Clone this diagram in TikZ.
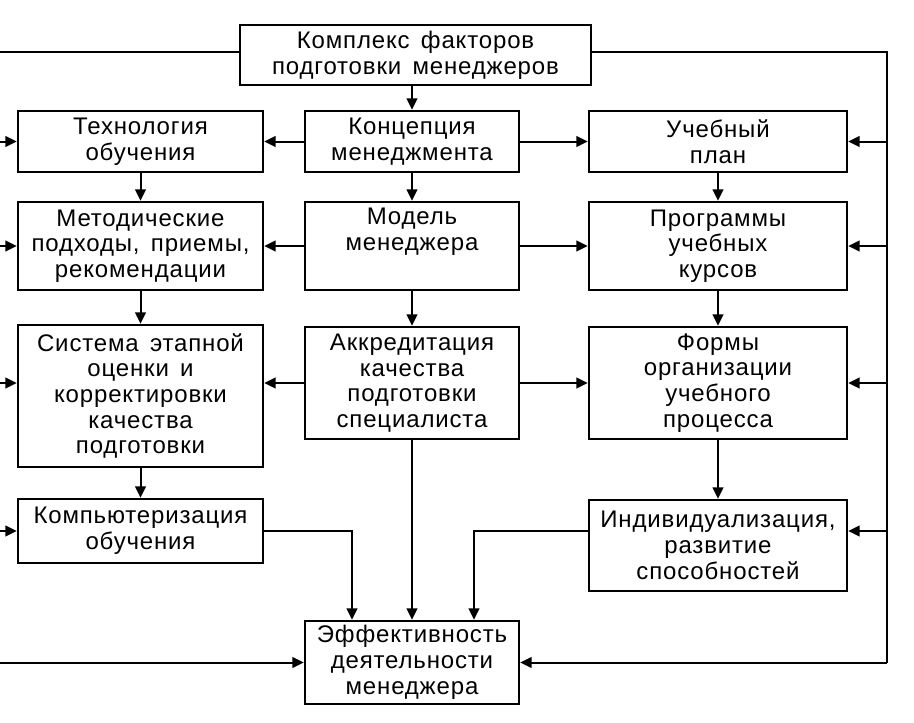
\documentclass[tikz,border=0pt]{standalone}
\usepackage{fontspec}
\setmainfont{Liberation Sans}[LetterSpace=3.5,WordSpace=1.5]
\usetikzlibrary{arrows.meta}
\begin{document}
\begin{tikzpicture}[x=0.75pt,y=-0.75pt,
  box/.style={draw, line width=2pt, align=center, inner sep=0pt,
    font=\fontsize{18}{19.3}\selectfont},
  colL/.style={box, minimum width=183.75pt},
  colM/.style={box, minimum width=160.5pt},
  colR/.style={box, minimum width=193.5pt},
  ln/.style={line width=1.5pt},
  arr/.style={line width=1.5pt, -{Triangle[length=8.5pt,width=8pt]}}]
\useasboundingbox (0,0) rectangle (914,722);
\fill[white] (0,0) rectangle (914,722);
\clip (0,0) rectangle (914,722);

\node[box, minimum width=263.25pt, minimum height=45pt] (top) at (415.5,55)
  {Комплекс факторов\\подготовки менеджеров};

\node[colL, minimum height=45.75pt] (tech) at (140.5,141.5) {Технология\\обучения};
\node[colM, minimum height=45.75pt] (konc) at (412,141.5) {Концепция\\менеджмента};
\node[colR, minimum height=45.75pt] (plan) at (718,141.5) {Учебный\\план};

\node[colL, minimum height=66pt] (metod) at (140.5,246) {Методические\\подходы, приемы,\\рекомендации};
\node[colM, minimum height=66pt] (model) at (412,246) {Модель\\менеджера\\\strut};
\node[colR, minimum height=66pt] (prog) at (718,246) {Программы\\учебных\\курсов};

\node[colL, minimum height=106.5pt] (sist) at (140.5,396) {Система этапной\\оценки и\\корректировки\\качества\\подготовки};
\node[colM, minimum height=84pt] (akkr) at (412,383) {Аккредитация\\качества\\подготовки\\специалиста};
\node[colR, minimum height=84pt] (formy) at (718,383) {Формы\\организации\\учебного\\процесса};

\node[colL, minimum height=48pt] (komp) at (140.5,531) {Компьютеризация\\обучения};
\node[colR, minimum height=68.25pt] (indiv) at (718,545.5) {Индивидуализация,\\развитие\\способностей};

\node[colM, minimum height=62.25pt] (eff) at (412,662.5) {Эффективность\\деятельности\\менеджера};

% feedback rails
\coordinate (L) at (-3,52);
\coordinate (R) at (887,52);
\coordinate (ka) at ([xshift=-45pt]eff.north);
\coordinate (ia) at ([xshift=46.5pt]eff.north);

\draw[ln] ([yshift=2.25pt]top.west) -- (L) -- (L |- eff.west);
\draw[ln] ([yshift=2.25pt]top.east) -- (R) -- (R |- eff.east);

% left inputs
\draw[arr] (L |- tech.west) -- (tech.west);
\draw[arr] (L |- metod.west) -- (metod.west);
\draw[arr] (L |- akkr.west) -- (akkr.west -| sist.west);
\draw[arr] (L |- komp.west) -- (komp.west);
\draw[arr] (L |- eff.west) -- (eff.west);

% right inputs
\draw[arr] (R |- plan.east) -- (plan.east);
\draw[arr] (R |- prog.east) -- (prog.east);
\draw[arr] (R |- formy.east) -- (formy.east);
\draw[arr] (R |- komp.east) -- (komp.east -| indiv.east);
\draw[arr] (R |- eff.east) -- (eff.east);

% centre column
\draw[arr] (top.south -| konc.north) -- (konc.north);
\draw[arr] (konc.south) -- (model.north);
\draw[arr] (model.south) -- (akkr.north);
\draw[arr] (akkr.south) -- (eff.north);

\draw[arr] (konc.west) -- (tech.east);
\draw[arr] (konc.east) -- (plan.west);
\draw[arr] (model.west) -- (metod.east);
\draw[arr] (model.east) -- (prog.west);
\draw[arr] (akkr.west) -- (akkr.west -| sist.east);
\draw[arr] (akkr.east) -- (formy.west);

% left column
\draw[arr] (tech.south) -- (metod.north);
\draw[arr] (metod.south) -- (sist.north);
\draw[arr] (sist.south) -- (komp.north);

% right column
\draw[arr] (plan.south) -- (prog.north);
\draw[arr] (prog.south) -- (formy.north);
\draw[arr] (formy.south) -- (indiv.north);

% to effectiveness
\draw[arr] (komp.east) -| (ka);
\draw[arr] (komp.east -| indiv.west) -| (ia);
\end{tikzpicture}
\end{document}
